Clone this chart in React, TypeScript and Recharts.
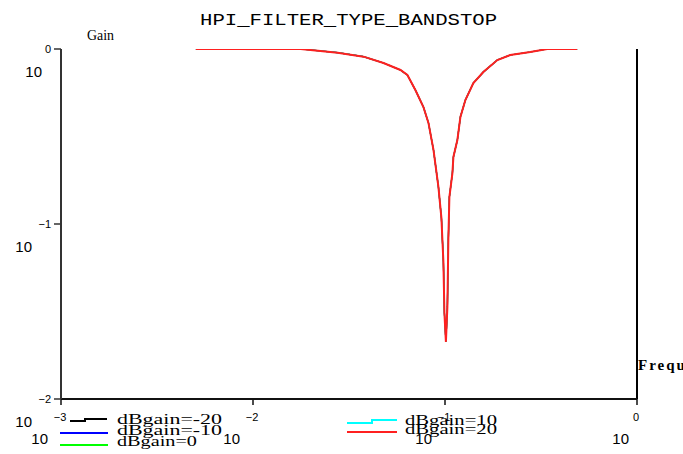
import React from "react";
import { LineChart, Line, XAxis, YAxis, ReferenceLine } from "recharts";

// normalised frequency and gain (all five curves coincide)
const freq = [
  0.00504, 0.0177, 0.02757, 0.03764, 0.04783, 0.0586, 0.0637, 0.0701, 0.0772,
  0.082, 0.0871, 0.0924, 0.0958, 0.0981, 0.0993, 0.1011, 0.1029, 0.1041,
  0.1054, 0.1093, 0.1106, 0.116, 0.1203, 0.1277, 0.1405, 0.1584, 0.1873,
  0.2188, 0.2781, 0.3408, 0.488,
];
const gain = [
  1, 1, 0.953, 0.904, 0.832, 0.759, 0.71, 0.583, 0.466, 0.378, 0.265, 0.163,
  0.108, 0.0607, 0.031, 0.0212, 0.0336, 0.081, 0.1426, 0.1955, 0.2415, 0.302,
  0.409, 0.511, 0.639, 0.739, 0.865, 0.924, 0.961, 1, 1,
];

const seriesNames = ["dBgain=-20", "dBgain=-10", "dBgain=0", "dBgain=10", "dBgain=20"];
const seriesColors = ["#000000", "#0000ff", "#00ff00", "#00ffff", "#ff2020"];

const xTicks = [0.001, 0.01, 0.1, 1];
const yTicks = [0.01, 0.1, 1];

const data = freq.map((f, i) => ({ f, g: gain[i] }));

const LABEL_FONT = "'Liberation Sans', Arial, sans-serif";
const SERIF = "'Liberation Serif', 'Times New Roman', serif";

function supText(v: number) {
  const e = Math.round(Math.log10(v));
  return e === 0 ? "0" : "\u2212" + String(-e);
}

function supWidth(s: string) {
  return s.length === 1 ? 6 : 16;
}

const YTick = (props: any) => {
  const { x, y, payload } = props;
  const s = supText(payload.value);
  return (
    <g>
      <text x={x} y={y + 4} textAnchor="end" fontSize={11} fontFamily={LABEL_FONT} fill="#000">
        {s}
      </text>
      <text x={x - supWidth(s) - 3} y={y + 28} textAnchor="end" fontSize={15} fontFamily={LABEL_FONT} fill="#000">
        10
      </text>
    </g>
  );
};

const XTick = (props: any) => {
  const { x, y, payload } = props;
  const s = supText(payload.value);
  return (
    <g>
      <text x={x - 1} y={y + 14} textAnchor="middle" fontSize={11} fontFamily={LABEL_FONT} fill="#000">
        {s}
      </text>
      <text x={x - 1 - supWidth(s) / 2 - 4} y={y + 37} textAnchor="end" fontSize={15} fontFamily={LABEL_FONT} fill="#000">
        10
      </text>
    </g>
  );
};

// legend placement: two columns, Mathcad style
const legendPos = [
  { line: "70,421 85,421 85,419 107,419", tx: 117, ty: 424, w: 105 },
  { line: "60,433 108,433", tx: 117, ty: 435, w: 105 },
  { line: "60,445 108,445", tx: 117, ty: 446, w: 80 },
  { line: "347,423 372,423 372,420 397,420", tx: 405, ty: 425, w: 92 },
  { line: "347,432 397,432", tx: 405, ty: 434, w: 92 },
];

export default function App() {
  return (
    <div style={{ position: "absolute", left: 0, top: 0, width: 683, height: 454, background: "#fff" }}>
      <LineChart
        width={683}
        height={454}
        data={data}
        margin={{ top: 49, right: 46, bottom: 5, left: 0 }}
      >
        <XAxis
          xAxisId="top"
          orientation="top"
          dataKey="f"
          type="number"
          scale="log"
          domain={[0.001, 1]}
          allowDataOverflow
          height={0}
          tick={false}
          tickLine={false}
          axisLine={{ stroke: "#444", strokeWidth: 2 }}
        />
        <XAxis
          dataKey="f"
          type="number"
          scale="log"
          domain={[0.001, 1]}
          ticks={xTicks}
          interval={0}
          allowDataOverflow
          height={50}
          tickSize={6}
          tickMargin={2}
          tick={<XTick />}
          axisLine={{ stroke: "#111", strokeWidth: 2 }}
          tickLine={{ stroke: "#111", strokeWidth: 1.5 }}
        />
        <YAxis
          type="number"
          scale="log"
          domain={[0.01, 1]}
          ticks={yTicks}
          interval={0}
          allowDataOverflow
          width={61}
          tickSize={7}
          tickMargin={3}
          tick={<YTick />}
          axisLine={{ stroke: "#333", strokeWidth: 2 }}
          tickLine={{ stroke: "#333", strokeWidth: 1.5 }}
        />
        <ReferenceLine x={1} stroke="#000" strokeWidth={2} />
        {seriesNames.map((name, i) => (
          <Line
            key={name}
            name={name}
            dataKey="g"
            type="linear"
            stroke={seriesColors[i]}
            strokeWidth={i === seriesNames.length - 1 ? 2 : 1.2}
            dot={false}
            isAnimationActive={false}
          />
        ))}
      </LineChart>
      <svg
        width={683}
        height={454}
        style={{ position: "absolute", left: 0, top: 0, pointerEvents: "none" }}
      >
        <text x={200} y={25} fontSize={16} fontFamily="'Liberation Mono', 'Courier New', monospace" textLength={297} lengthAdjust="spacingAndGlyphs">
          HPI_FILTER_TYPE_BANDSTOP
        </text>
        <text x={87} y={40} fontSize={14} fontFamily={SERIF} textLength={27} lengthAdjust="spacingAndGlyphs">
          Gain
        </text>
        <text x={638} y={370} fontSize={15} fontWeight="bold" fontFamily={SERIF} letterSpacing={2}>
          Frequency
        </text>
        {seriesNames.map((name, i) => (
          <g key={name}>
            <polyline points={legendPos[i].line} fill="none" stroke={seriesColors[i]} strokeWidth={2} />
            <text
              x={legendPos[i].tx}
              y={legendPos[i].ty}
              fontSize={14}
              fontFamily={SERIF}
              textLength={legendPos[i].w}
              lengthAdjust="spacingAndGlyphs"
            >
              {name}
            </text>
          </g>
        ))}
      </svg>
    </div>
  );
}
